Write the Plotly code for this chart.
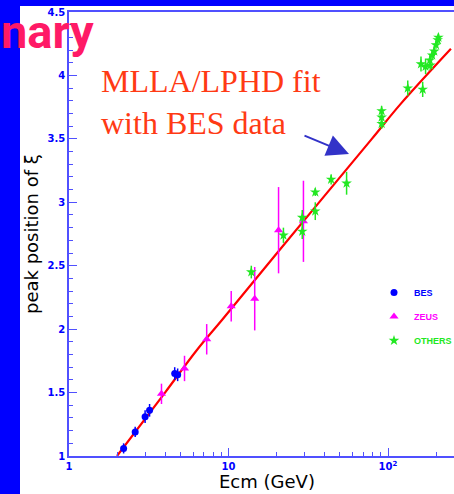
import plotly.graph_objects as go
import numpy as np

# ---------------- data ----------------
bes_E = [2.2, 2.6, 3.0, 3.2, 4.6, 4.8]
bes_xi = [1.06, 1.19, 1.31, 1.36, 1.65, 1.64]
bes_err = [0.04, 0.04, 0.05, 0.05, 0.05, 0.05]

zeus_E = [3.8, 5.3, 7.3, 10.4, 14.6, 20.6, 29.5]
zeus_xi = [1.49, 1.69, 1.92, 2.18, 2.24, 2.78, 2.85]
zeus_err = [0.08, 0.10, 0.12, 0.12, 0.25, 0.34, 0.32]

others_E = [13.9, 22.1, 29.0, 29.0, 35.0, 35.0, 44.0, 55.0, 91.2, 91.2, 91.2,
            133.0, 161.0, 165.0, 172.0, 183.0, 184.0, 189.0, 195.0, 200.0, 205.0, 207.0]
others_xi = [2.45, 2.74, 2.88, 2.77, 3.08, 2.93, 3.18, 3.15, 3.72, 3.67, 3.62,
             3.90, 4.09, 3.89, 4.07, 4.12, 4.08, 4.16, 4.19, 4.24, 4.28, 4.30]
others_err = [0.05, 0.06, 0.06, 0.06, 0.03, 0.07, 0.04, 0.09, 0.04, 0.04, 0.04,
              0.06, 0.06, 0.06, 0.06, 0.04, 0.04, 0.04, 0.04, 0.03, 0.03, 0.03]

fit_E = [2.0, 4.0, 6.34, 9.1, 20.1, 79.2, 119.0, 248.0]
fit_xi = [1.0, 1.50, 1.836, 2.072, 2.598, 3.50, 3.77, 4.21]

x_ticks = [1, 10, 100]
x_ticktext = ["1", "10", "10<sup>2</sup>"]
x_minor = [2, 3, 4, 5, 6, 7, 8, 9, 20, 30, 40, 50, 60, 70, 80, 90, 200]
y_ticks = [1, 1.5, 2, 2.5, 3, 3.5, 4, 4.5]
y_ticktext = ["1", "1.5", "2", "2.5", "3", "3.5", "4", "4.5"]

# ---------------- layout geometry ----------------
W, H = 454, 494
ML, MR, MT, MB = 69, 0, 12, 38
PW, PH = W - ML - MR, H - MT - MB

def px_x(p):
    return (p - ML) / PW

def px_y(p):
    return (H - MB - p) / PH

BLUE = "#0000ff"
AXC = "#5050ff"
MAG = "#ff00ff"
GRN = "#22e822"

fig = go.Figure()

fig.add_trace(go.Scatter(
    x=fit_E, y=fit_xi, mode="lines", line=dict(color="#ff0000", width=2.2, shape="spline"),
    showlegend=False, hoverinfo="skip"))

fig.add_trace(go.Scatter(
    x=bes_E, y=bes_xi, mode="markers", name="<span style='color:#0000ff'>BES</span>",
    legendgroup="a",
    marker=dict(symbol="circle", size=7, color=BLUE),
    error_y=dict(type="data", array=bes_err, color=BLUE, thickness=1.5, width=0)))

fig.add_trace(go.Scatter(
    x=zeus_E, y=zeus_xi, mode="markers", name="<span style='color:#ff00ff'>ZEUS</span>",
    legendgroup="b",
    marker=dict(symbol="triangle-up", size=8, color=MAG),
    error_y=dict(type="data", array=zeus_err, color=MAG, thickness=1.5, width=0)))

fig.add_trace(go.Scatter(
    x=others_E, y=others_xi, mode="markers", name="<span style='color:#22e822'>OTHERS</span>",
    legendgroup="c",
    marker=dict(symbol="star", size=8, color=GRN),
    error_y=dict(type="data", array=others_err, color=GRN, thickness=1.5, width=0)))

tickfont = dict(family="DejaVu Sans", size=10, color=BLUE, weight="bold")

fig.update_xaxes(
    type="log", range=[0, (W - ML) / 159.5],
    tickmode="array", tickvals=x_ticks, ticktext=x_ticktext,
    ticks="inside", ticklen=8, tickwidth=1, tickcolor=AXC,
    showline=True, linecolor=AXC, linewidth=1.5, mirror=True,
    showgrid=False, zeroline=False, tickfont=tickfont,
    minor=dict(tickmode="array", tickvals=x_minor, ticks="inside", ticklen=4,
               tickcolor=AXC, showgrid=False),
)
fig.update_yaxes(
    range=[1, 4.5], tickmode="array", tickvals=y_ticks, ticktext=y_ticktext,
    ticks="inside", ticklen=8, tickwidth=1, tickcolor=AXC,
    showline=True, linecolor=AXC, linewidth=1.5, mirror=False,
    showgrid=False, zeroline=False, tickfont=tickfont,
    minor=dict(dtick=0.1, ticks="inside", ticklen=4, tickcolor=AXC, showgrid=False),
)

shapes = [
    # blue frame: left strip and top strip
    dict(type="rect", xref="paper", yref="paper", x0=px_x(0), x1=px_x(20), y0=px_y(H), y1=px_y(0),
         fillcolor=BLUE, line=dict(width=0), layer="below"),
    dict(type="rect", xref="paper", yref="paper", x0=px_x(0), x1=px_x(W), y0=px_y(6), y1=px_y(0),
         fillcolor=BLUE, line=dict(width=0), layer="below"),
]

annotations = [
    dict(text="nary", xref="paper", yref="paper", x=px_x(-1), y=px_y(31), xanchor="left", yanchor="middle",
         showarrow=False, font=dict(family="Roboto", size=47, color="#ff1a66", weight="bold")),
    dict(text="MLLA/LPHD fit<br>with BES data", xref="paper", yref="paper", x=px_x(99), y=px_y(61),
         xanchor="left", yanchor="top", align="left", showarrow=False,
         font=dict(family="Liberation Serif", size=32, color="#ff3a14")),
    dict(text="", xref="paper", yref="paper", x=px_x(349), y=px_y(154), ax=-46, ay=-19,
         showarrow=True, arrowhead=2, arrowsize=2.2, arrowwidth=2, arrowcolor="#3232c8"),
    dict(text="Ecm (GeV)", xref="paper", yref="paper", x=px_x(267), y=px_y(481),
         xanchor="center", yanchor="middle", showarrow=False,
         font=dict(family="DejaVu Sans", size=18, color="black")),
    dict(text="peak position of ξ", xref="paper", yref="paper", x=px_x(31), y=px_y(234),
         xanchor="center", yanchor="middle", showarrow=False, textangle=-90,
         font=dict(family="DejaVu Sans", size=18, color="black")),
]

fig.update_layout(
    width=W, height=H, margin=dict(l=ML, r=MR, t=MT, b=MB, pad=0, autoexpand=False),
    paper_bgcolor="white", plot_bgcolor="white",
    shapes=shapes, annotations=annotations,
    showlegend=True,
    legend=dict(x=px_x(374), y=px_y(278), xanchor="left", yanchor="top",
                bgcolor="rgba(0,0,0,0)", tracegroupgap=5,
                font=dict(family="Liberation Sans", size=9, weight="bold")),
)

fig.write_html("out.html", config={"displayModeBar": False})
